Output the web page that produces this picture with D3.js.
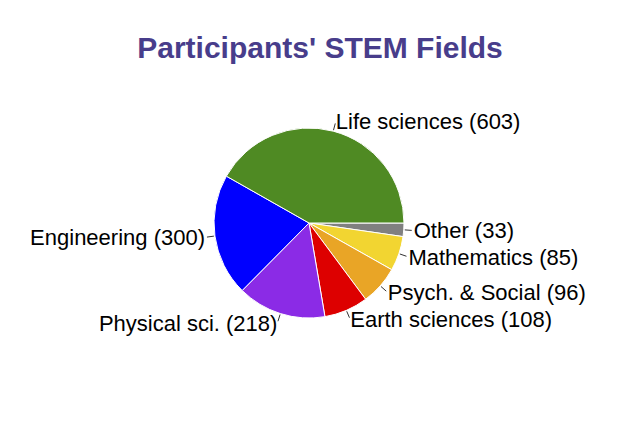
<!DOCTYPE html>
<html>
<head>
<meta charset="utf-8">
<script src="https://cdn.jsdelivr.net/npm/d3@7"></script>
<style>
  body { margin: 0; background: #fff; }
  text { font-family: "Liberation Sans", Arial, Helvetica, sans-serif; }
</style>
</head>
<body>
<svg id="chart"></svg>
<script>
// data, in drawing order (clockwise from 3 o'clock)
const fields = ['Other', 'Mathematics', 'Psych. & Social', 'Earth sciences', 'Physical sci.', 'Engineering', 'Life sciences'];
const counts = [33, 85, 96, 108, 218, 300, 603];
const colors = ['#808080', '#f2d531', '#e9a526', '#dd0000', '#8b2be6', '#0000ff', '#4f8a23'];

const width = 640, height = 426;
const cx = 309, cy = 223, r = 95;

const svg = d3.select('#chart')
  .attr('width', width)
  .attr('height', height);

svg.append('text')
  .attr('x', 320)
  .attr('y', 58)
  .attr('text-anchor', 'middle')
  .style('font-size', '30px')
  .style('font-weight', 'bold')
  .attr('fill', '#483d8b')
  .text("Participants' STEM Fields");

const data = fields.map((f, i) => ({ field: f, count: counts[i], color: colors[i] }));

const pie = d3.pie()
  .sort(null)
  .value(d => d.count)
  .startAngle(Math.PI / 2)
  .endAngle(Math.PI / 2 + 2 * Math.PI);

const arcs = pie(data);
const arc = d3.arc().innerRadius(0).outerRadius(r);

const g = svg.append('g')
  .attr('transform', `translate(${cx},${cy})`);

g.selectAll('path')
  .data(arcs)
  .join('path')
    .attr('d', arc)
    .attr('fill', d => d.data.color)
    .attr('stroke', '#fff')
    .attr('stroke-width', 1);

// leader ticks + labels
const pt = (a, rad) => [rad * Math.sin(a), -rad * Math.cos(a)];
const mid = d => (d.startAngle + d.endAngle) / 2;

g.selectAll('line.lead')
  .data(arcs)
  .join('line')
    .attr('class', 'lead')
    .attr('x1', d => pt(mid(d), r + 1)[0])
    .attr('y1', d => pt(mid(d), r + 1)[1])
    .attr('x2', d => pt(mid(d), r + 8)[0])
    .attr('y2', d => pt(mid(d), r + 8)[1])
    .attr('stroke', '#333')
    .attr('stroke-width', 1);

g.selectAll('text.lab')
  .data(arcs)
  .join('text')
    .attr('class', 'lab')
    .attr('x', d => pt(mid(d), r + 10)[0])
    .attr('y', d => pt(mid(d), r + 10)[1])
    .attr('dy', '0.35em')
    .attr('text-anchor', d => (mid(d) % (2 * Math.PI)) < Math.PI ? 'start' : 'end')
    .style('font-size', '22px')
    .attr('fill', '#000')
    .text(d => `${d.data.field} (${d.data.count})`);
</script>
</body>
</html>
